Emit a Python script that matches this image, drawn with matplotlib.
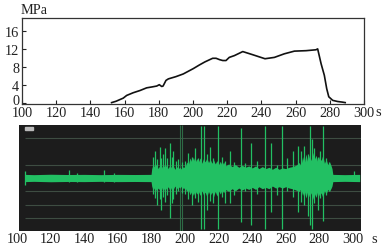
import matplotlib
matplotlib.use('Agg')
import matplotlib.pyplot as plt
from matplotlib.transforms import blended_transform_factory, ScaledTranslation
from matplotlib.patches import Rectangle

# ---------------- data ----------------
# pressure curve (top)
p_t = [152.4, 155, 159.2, 161.2, 165, 169, 172.9, 176, 178.8, 180.3, 181.7, 182.5,
       184.2, 185.6, 190, 194.3, 200.2, 203.7, 207, 211.5, 213.5, 215.5, 217.4, 219.3,
       221.2, 224.2, 229.1, 234.9, 242.1, 247.6, 253.4, 259.3, 266.1, 271.9, 272.9,
       274.9, 276.8, 278.2, 279.4, 281.7, 284.5, 287.5, 289]
p_val = [0, 0.3, 1.0, 1.6, 2.2, 2.7, 3.3, 3.5, 3.7, 4.0, 3.6, 3.7,
         4.96, 5.3, 5.8, 6.4, 7.6, 8.4, 9.1, 9.9, 9.9, 9.6, 9.4, 9.4,
         10.1, 10.5, 11.4, 10.7, 9.8, 10.1, 10.9, 11.5, 11.6, 11.8, 12.0,
         8.7, 6.1, 3.1, 1.3, 0.5, 0.25, 0.1, 0]
top_xticks = [100, 120, 140, 160, 180, 200, 220, 240, 260, 280, 300]
top_yticks = [0, 4, 8, 12, 16]

# acoustic signal (bottom): core band envelope
band_t = [104.8, 110, 120, 130, 140, 150, 160, 170, 179.8,
          180.2, 181, 182, 183, 184, 185, 186, 187, 188, 189, 190, 191, 192, 193,
          194, 195, 196, 197, 198, 199, 200, 201, 202, 203, 204, 205, 206, 207,
          208, 209, 210, 211, 212, 213, 214, 215, 216, 217, 218, 219, 220, 221,
          222, 223, 224, 226, 228, 230, 232, 234, 236, 238, 240, 242, 244, 246,
          248, 250, 252, 254, 256, 258, 260, 262, 264, 266, 268, 269, 270, 271,
          272, 273, 274, 275, 276, 277, 278, 279, 280, 281, 282, 283, 284, 285,
          286, 287, 287.5, 288, 295, 304]
band_hi = [0.27, 0.25, 0.28, 0.26, 0.27, 0.25, 0.27, 0.26, 0.27,
           0.7, 1.0, 0.8, 1.05, 0.7, 0.95, 0.75, 1.0, 0.8, 0.95, 0.7, 1.0, 0.75, 0.9,
           0.65, 0.85, 0.7, 0.8, 0.65, 0.85, 0.75, 1.2, 1.0, 1.5, 1.2, 1.55, 1.15, 1.45,
           1.2, 1.5, 1.1, 1.45, 1.2, 1.5, 1.15, 1.4, 1.1, 1.35, 1.05, 1.3, 1.0, 1.25,
           0.95, 1.2, 0.9, 1.05, 0.85, 1.0, 0.8, 0.95, 0.8, 0.9, 0.75, 0.9, 0.7, 0.85,
           0.7, 0.8, 0.65, 0.8, 0.65, 0.75, 0.7, 0.8, 0.85, 0.95, 1.15, 0.9, 1.6, 1.1,
           1.8, 1.2, 1.7, 1.3, 1.9, 1.4, 1.7, 1.2, 1.6, 1.3, 1.7, 1.1, 1.4, 1.0,
           1.2, 0.9, 0.7, 0.27, 0.25, 0.27]
band_lo = [-0.27, -0.25, -0.28, -0.26, -0.27, -0.25, -0.27, -0.26, -0.27,
           -0.6, -0.9, -0.7, -0.95, -0.75, -0.9, -0.7, -1.0, -0.7, -0.85, -0.65, -0.95, -0.7, -0.85,
           -0.6, -0.8, -0.65, -0.75, -0.6, -0.8, -0.7, -1.0, -0.85, -1.25, -1.0, -1.3, -0.95, -1.2,
           -1.0, -1.3, -0.95, -1.25, -1.05, -1.4, -1.0, -1.3, -1.05, -1.4, -1.0, -1.35, -0.95, -1.2,
           -0.9, -1.1, -0.85, -1.0, -0.8, -0.95, -0.75, -0.9, -0.75, -0.85, -0.7, -0.85, -0.65, -0.8,
           -0.7, -0.8, -0.6, -0.75, -0.65, -0.75, -0.65, -0.75, -0.8, -0.9, -1.0, -0.8, -1.3, -0.95,
           -1.5, -1.0, -1.4, -1.1, -1.6, -1.15, -1.45, -1.0, -1.35, -1.1, -1.45, -0.95, -1.2, -0.85,
           -1.0, -0.75, -0.6, -0.27, -0.25, -0.27]

# spikes: time, top, bottom
spike_t = [104.8, 131, 136, 152, 158,
           181, 182, 183.5, 185, 186, 187, 188, 189.5, 191, 192, 193, 194.5, 196, 198, 200,
           202, 204, 206, 208, 213, 215, 216.5, 222, 224, 226.8, 229, 236, 243, 255,
           261, 264, 271, 273, 277, 279, 280.5, 284, 286,
           209.5, 211.2, 219.6, 233.5, 239.3, 247.6, 251, 257.9, 267.3, 269,
           274.2, 275.8, 282, 300.6]
spike_hi = [0.55, 0.6, 0.35, 0.6, 0.35,
            1.6, 2.0, 1.4, 2.3, 1.5, 1.8, 2.2, 1.5, 2.6, 1.6, 2.0, 1.3, 1.4, 1.2, 1.3,
            1.9, 1.6, 2.2, 1.5, 1.8, 2.3, 1.5, 1.6, 1.3, 2.0, 1.2, 1.1, 1.3, 1.0,
            1.5, 2.0, 2.4, 1.8, 2.2, 1.6, 2.0, 1.5, 1.2,
            3.9, 3.9, 3.9, 3.7, 2.6, 3.9, 2.6, 3.9, 2.4, 2.0,
            3.9, 2.9, 3.9, 0.55]
spike_lo = [-0.5, -0.3, -0.3, -0.3, -0.3,
            -1.2, -1.5, -2.0, -1.6, -2.4, -1.4, -1.8, -1.3, -3.0, -1.9, -1.6, -1.2, -1.0, -1.1, -1.2,
            -1.6, -2.0, -1.5, -1.8, -2.4, -1.7, -1.9, -1.4, -1.9, -1.9, -1.3, -1.0, -1.2, -1.3,
            -1.0, -1.4, -2.0, -2.8, -1.9, -2.4, -1.5, -1.3, -1.0,
            -3.8, -3.8, -3.8, -3.3, -3.5, -3.8, -2.5, -3.8, -2.5, -1.8,
            -3.5, -3.8, -3.2, -0.2]
faint_t = [197, 198.3]
grid_levels = [3, 1, -1, -2, -3]
bottom_xticks = [100, 120, 140, 160, 180, 200, 220, 240, 260, 280, 300]

# ---------------- figure ----------------
W, H = 386, 251
fig = plt.figure(figsize=(W / 100, H / 100), dpi=100)
serif = 'Liberation Serif'
FS = 10.3
txtc = '#222222'

ax1 = fig.add_axes([22 / W, 1 - 104.5 / H, (364 - 22) / W, (104.5 - 19) / H])
ax1.plot(p_t, p_val, color='#111111', lw=1.2)
ax1.set_xlim(100, 300)
ax1.set_ylim(-0.2, 18.9)
ax1.set_xticks(top_xticks)
ax1.set_yticks(top_yticks)
ax1.tick_params(direction='in', length=3, width=0.8, pad=2, labelsize=FS, colors=txtc)
for lab in ax1.get_xticklabels() + ax1.get_yticklabels():
    lab.set_fontfamily(serif)
ylabs = ax1.get_yticklabels()
ylabs[0].set_transform(ylabs[0].get_transform() + ScaledTranslation(0, 3.5 / 100, fig.dpi_scale_trans))
for s in ax1.spines.values():
    s.set_color('#333333')
    s.set_linewidth(0.9)
fig.text(21 / W, 1 - 11 / H, 'MPa', fontsize=FS, family=serif, color=txtc,
         ha='left', va='center')
fig.text(378 / W, 1 - 113 / H, 's', fontsize=FS, family=serif, color=txtc,
         ha='center', va='center')

# bottom panel
left_t = 100 + (19 - 17) / 1.68
right_t = 100 + (360.5 - 17) / 1.68
ax2 = fig.add_axes([19 / W, 1 - 232 / H, (360.5 - 19) / W, (232 - 126) / H])
ax2.set_facecolor('#1c1c1c')
ax2.set_xlim(left_t, right_t)
ax2.set_ylim(-3.95, 3.95)
ax2.hlines(grid_levels, 104.5, right_t, color='#3e4d42', lw=0.8, zorder=1)
green = '#22c063'
ax2.vlines(faint_t, -3.95, 3.95, color='#2e6a45', lw=0.8, zorder=2)
ax2.fill_between(band_t, band_lo, band_hi, color=green, lw=0, zorder=3)
ax2.vlines(spike_t, spike_lo, spike_hi, color=green, lw=0.9, zorder=4)
ax2.set_xticks([])
ax2.set_yticks([])
for s in ax2.spines.values():
    s.set_visible(False)
ax2.add_patch(Rectangle((0.018, 0.955), 0.024, 0.03, transform=ax2.transAxes,
                        color='#bbbbbb', zorder=5))
tr = blended_transform_factory(ax2.transData, ax2.transAxes)
for t in bottom_xticks:
    ax2.text(t, -0.075, str(t), transform=tr, fontsize=FS, family=serif, color=txtc,
             ha='center', va='center', clip_on=False)
fig.text(374 / W, 1 - 240 / H, 's', fontsize=FS, family=serif, color=txtc,
         ha='center', va='center')

fig.savefig('out.png', dpi=100, facecolor='white')
